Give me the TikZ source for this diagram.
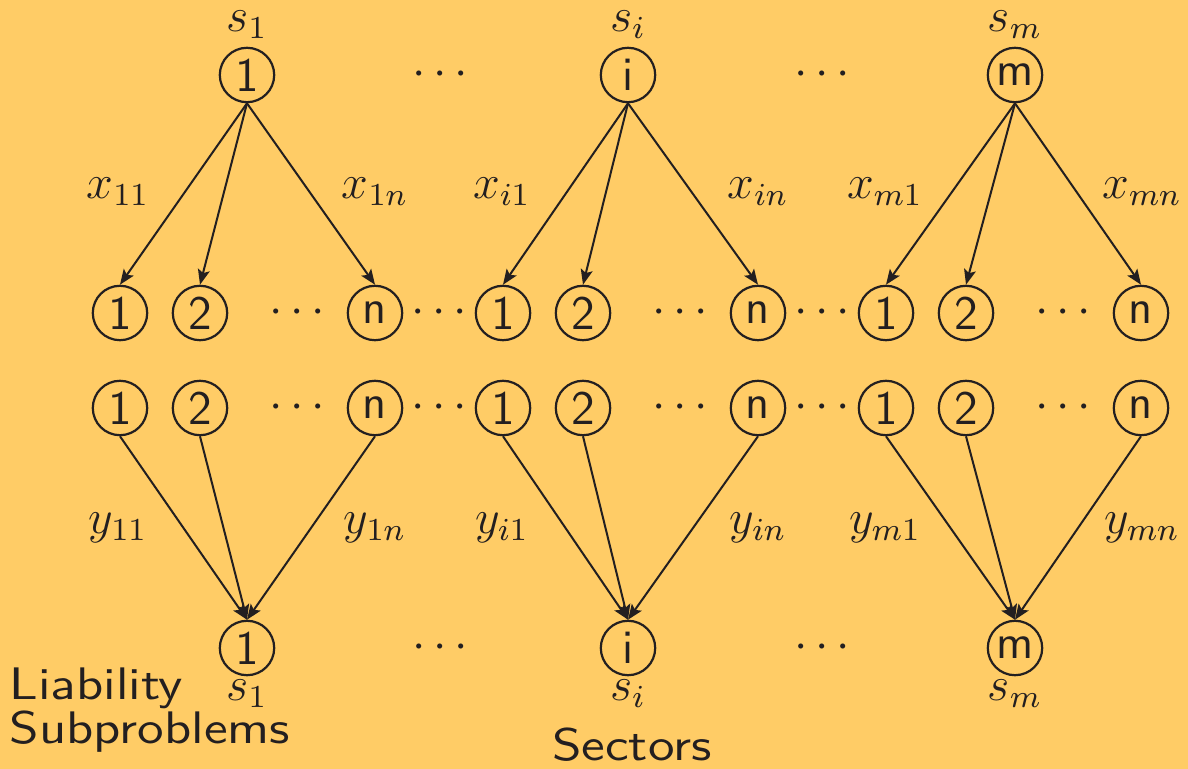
\documentclass[tikz,border=0pt]{standalone}
\usetikzlibrary{arrows.meta}
\definecolor{bg}{HTML}{FFCC66}
\definecolor{ink}{HTML}{231F20}
\tikzset{
  nd/.style={circle,draw=ink,line width=0.55pt,minimum size=13.6pt,inner sep=0pt,text=ink,font=\fontsize{12}{14}\sffamily},
  lbl/.style={text=ink,inner sep=0pt,font=\fontsize{12}{14}\selectfont},
  txt/.style={text=ink,inner sep=0pt,font=\fontsize{11.4}{14}\sffamily,anchor=west},
  dts/.style={text=ink,inner sep=0pt,font=\fontsize{12}{14}\selectfont},
  arr/.style={draw=ink,line width=0.5pt,-{Stealth[length=3.8pt,width=3pt,inset=0.8pt]}}
}
\begin{document}
\begin{tikzpicture}[x=0.25pt,y=-0.25pt]
\fill[bg] (0,0) rectangle (1188,769);
\useasboundingbox (0,0) rectangle (1188,769);
% top sector nodes
\node[nd] (t1) at (247,75) {1};
\node[nd] (ti) at (628,75) {i};
\node[nd] (tm) at (1015,75) {m};
\node[lbl] (st1) at (247,25) {$s_1$};
\node[lbl] (sti) at (628,25) {$s_i$};
\node[lbl] (stm) at (1015,25) {$s_m$};
\node[dts] (td1) at (440,75) {$\cdots$};
\node[dts] (td2) at (822,75) {$\cdots$};
% middle rows
\foreach \r/\y in {u/313, l/408}{
  \node[nd] (\r11) at (120,\y) {1};
  \node[nd] (\r12) at (200,\y) {2};
  \node[nd] (\r1n) at (375,\y) {n};
  \node[nd] (\r i1) at (503,\y) {1};
  \node[nd] (\r i2) at (583,\y) {2};
  \node[nd] (\r in) at (758,\y) {n};
  \node[nd] (\r m1) at (886,\y) {1};
  \node[nd] (\r m2) at (966,\y) {2};
  \node[nd] (\r mn) at (1141,\y) {n};
  \node[dts] (\r d1) at (297,\y) {$\cdots$};
  \node[dts] (\r d2) at (680,\y) {$\cdots$};
  \node[dts] (\r d3) at (1063,\y) {$\cdots$};
  \node[dts] (\r d4) at (439,\y) {$\cdots$};
  \node[dts] (\r d5) at (822,\y) {$\cdots$};
}
% bottom sector nodes
\node[nd] (b1) at (247,648) {1};
\node[nd] (bi) at (628,648) {i};
\node[nd] (bm) at (1015,648) {m};
\node[lbl] (sb1) at (247,694) {$s_1$};
\node[lbl] (sbi) at (628,694) {$s_i$};
\node[lbl] (sbm) at (1015,694) {$s_m$};
\node[dts] (bd1) at (440,648) {$\cdots$};
\node[dts] (bd2) at (822,648) {$\cdots$};
% edges
\foreach \s in {1,i,m}{
  \foreach \k in {1,2,n}{
    \draw[arr] (t\s.south) -- (u\s\k.north);
    \draw[arr] (l\s\k.south) -- (b\s.north);
  }
}
% edge labels
\node[lbl] (x11) at (118,192) {$x_{11}$};
\node[lbl] (x1n) at (375,192) {$x_{1n}$};
\node[lbl] (xi1) at (502,192) {$x_{i1}$};
\node[lbl] (xin) at (758,192) {$x_{in}$};
\node[lbl] (xm1) at (885,192) {$x_{m1}$};
\node[lbl] (xmn) at (1142,192) {$x_{mn}$};
\node[lbl] (y11) at (118,528) {$y_{11}$};
\node[lbl] (y1n) at (375,528) {$y_{1n}$};
\node[lbl] (yi1) at (502,528) {$y_{i1}$};
\node[lbl] (yin) at (758,528) {$y_{in}$};
\node[lbl] (ym1) at (885,528) {$y_{m1}$};
\node[lbl] (ymn) at (1142,528) {$y_{mn}$};
% texts
\node[txt] (liab) at (9,688) {\scalebox{1.19}[1]{Liability}};
\node[txt] (subp) at (9,732) {\scalebox{1.19}[1]{Subproblems}};
\node[txt,anchor=center] (sect) at (632,745) {\scalebox{1.19}[1]{Sectors}};
\end{tikzpicture}
\end{document}
